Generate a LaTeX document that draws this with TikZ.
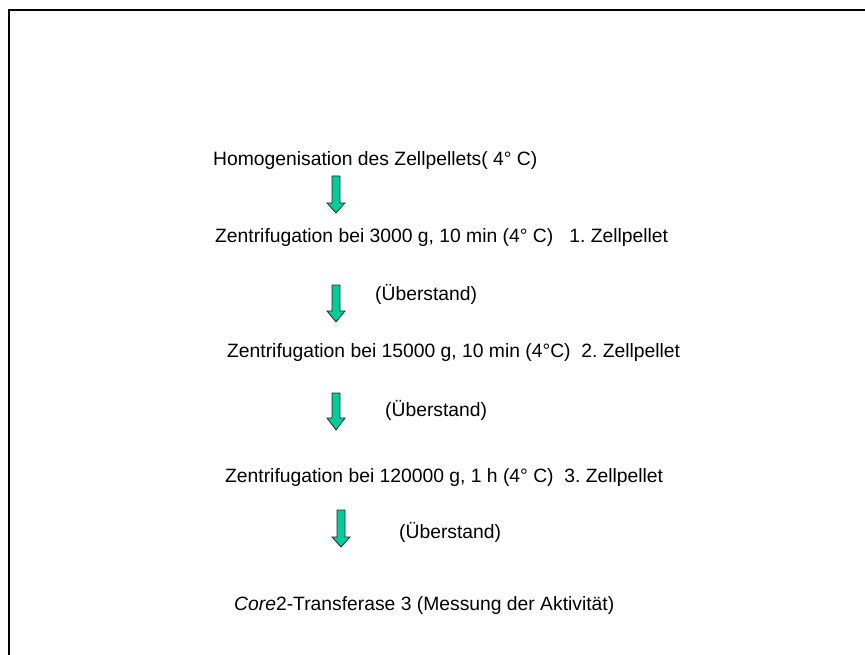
\documentclass[tikz,border=0pt]{standalone}
\usepackage{fontspec}
\setmainfont{Liberation Sans}
\frenchspacing
\definecolor{arrowgreen}{RGB}{0,204,153}
\begin{document}
\begin{tikzpicture}[x=1pt,y=-1pt,
  lbl/.style={anchor=base west,inner sep=0pt,font=\fontsize{19.3}{23}\selectfont},
  blockarrow/.style={fill=arrowgreen,draw=black!85,line width=0.8pt,line join=miter},
  frame/.style={line width=2pt,line cap=rect}]
\useasboundingbox (0,0) rectangle (865,655);
\draw[frame] (9,660) -- (9,10) -- (870,10);
\node[lbl] (t1) at (213,166) {Homogenisation des Zellpellets( 4° C)};
\node[lbl] (t2) at (215,243) {Zentrifugation bei 3000 g, 10 min (4° C)\ \ \ 1. Zellpellet};
\node[lbl] (t3) at (375,301) {(Überstand)};
\node[lbl] (t4) at (227,357) {Zentrifugation bei 15000 g, 10 min (4°C)\ \ 2. Zellpellet};
\node[lbl] (t5) at (385,416) {(Überstand)};
\node[lbl] (t6) at (225,482) {Zentrifugation bei 120000 g, 1 h (4° C)\ \ 3. Zellpellet};
\node[lbl] (t7) at (399,538) {(Überstand)};
\node[lbl] (t8) at (234,610) {\textit{Core}2-Transferase 3 (Messung der Aktivität)};
\newcommand{\greenarrow}[4]{%
  \draw[blockarrow] (#1-4,#2) -- (#1+4,#2) -- (#1+4,#3) -- (#1+9,#3) -- (#1,#4) -- (#1-9,#3) -- (#1-4,#3) -- cycle;}
\greenarrow{336}{176}{203}{213}
\greenarrow{336}{285}{311}{322}
\greenarrow{336}{393}{418}{430}
\greenarrow{341}{510}{537}{547}
\end{tikzpicture}
\end{document}
